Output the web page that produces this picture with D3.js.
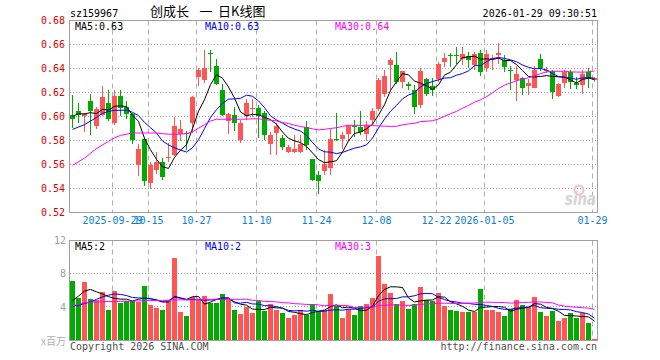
<!DOCTYPE html>
<html>
<head>
<meta charset="utf-8">
<script src="https://cdn.jsdelivr.net/npm/d3@7"></script>
<style>
  body { margin: 0; background: #fff; }
  text { font-family: "DejaVu Sans Mono", monospace; font-size: 10px; }
</style>
</head>
<body>
<div id="kline"></div>
<script>
/* sz159967 daily K-line: candles + volume, with MA5 / MA10 / MA30 */

const dates = [
  "2025-09-18","2025-09-19","2025-09-22","2025-09-23","2025-09-24","2025-09-25","2025-09-26","2025-09-29","2025-09-30",
  "2025-10-09","2025-10-10","2025-10-13","2025-10-14","2025-10-15","2025-10-16","2025-10-17","2025-10-20","2025-10-21",
  "2025-10-22","2025-10-23","2025-10-24","2025-10-27","2025-10-28","2025-10-29","2025-10-30","2025-10-31",
  "2025-11-03","2025-11-04","2025-11-05","2025-11-06","2025-11-07","2025-11-10","2025-11-11","2025-11-12","2025-11-13",
  "2025-11-14","2025-11-17","2025-11-18","2025-11-19","2025-11-20","2025-11-21","2025-11-24","2025-11-25","2025-11-26",
  "2025-11-27","2025-11-28",
  "2025-12-01","2025-12-02","2025-12-03","2025-12-04","2025-12-05","2025-12-08","2025-12-09","2025-12-10","2025-12-11",
  "2025-12-12","2025-12-15","2025-12-16","2025-12-17","2025-12-18","2025-12-19","2025-12-22","2025-12-23","2025-12-24",
  "2025-12-25","2025-12-26","2025-12-29","2025-12-30","2025-12-31",
  "2026-01-05","2026-01-06","2026-01-07","2026-01-08","2026-01-09","2026-01-12","2026-01-13","2026-01-14","2026-01-15",
  "2026-01-16","2026-01-19","2026-01-20","2026-01-21","2026-01-22","2026-01-23","2026-01-26","2026-01-27","2026-01-28",
  "2026-01-29"
];

const opens = [
  0.601,0.604,0.600,0.613,0.592,0.601,0.611,0.594,0.617,0.608,0.602,0.559,0.581,0.544,0.555,0.562,0.565,0.568,0.585,0.586,
  0.594,0.633,0.630,0.653,0.642,0.622,0.596,0.601,0.580,0.600,0.606,0.607,0.603,0.577,0.586,0.582,0.570,0.570,0.570,0.591,
  0.564,0.551,0.554,0.557,0.581,0.581,0.585,0.592,0.591,0.585,0.597,0.606,0.619,0.643,0.643,0.629,0.627,0.622,0.609,0.631,
  0.625,0.631,0.645,0.651,0.651,0.648,0.650,0.643,0.653,0.640,0.648,0.651,0.647,0.639,0.630,0.632,0.625,0.624,0.648,0.638,
  0.638,0.617,0.628,0.637,0.628,0.626,0.637,0.630
];
const highs = [
  0.618,0.611,0.603,0.619,0.608,0.625,0.622,0.622,0.622,0.613,0.603,0.577,0.582,0.562,0.570,0.565,0.578,0.599,0.597,0.588,
  0.617,0.640,0.655,0.655,0.648,0.627,0.603,0.608,0.597,0.614,0.614,0.609,0.604,0.587,0.594,0.584,0.576,0.584,0.584,0.596,
  0.564,0.554,0.572,0.589,0.603,0.587,0.593,0.597,0.604,0.596,0.607,0.632,0.639,0.649,0.654,0.638,0.629,0.626,0.640,0.632,
  0.632,0.645,0.653,0.653,0.658,0.658,0.654,0.654,0.655,0.655,0.651,0.661,0.651,0.642,0.642,0.633,0.631,0.642,0.652,0.641,
  0.639,0.628,0.639,0.639,0.633,0.639,0.640,0.633
];
const lows = [
  0.590,0.594,0.587,0.584,0.589,0.600,0.596,0.593,0.600,0.598,0.577,0.550,0.542,0.539,0.552,0.547,0.562,0.567,0.579,0.572,
  0.586,0.625,0.628,0.637,0.626,0.600,0.585,0.588,0.578,0.597,0.599,0.582,0.580,0.568,0.568,0.572,0.569,0.569,0.569,0.572,
  0.546,0.535,0.551,0.551,0.579,0.573,0.579,0.583,0.584,0.579,0.593,0.604,0.616,0.622,0.627,0.624,0.622,0.602,0.607,0.617,
  0.617,0.629,0.641,0.641,0.644,0.643,0.640,0.639,0.634,0.637,0.639,0.644,0.637,0.622,0.613,0.618,0.618,0.624,0.638,0.636,
  0.614,0.616,0.624,0.623,0.623,0.619,0.624,0.629
];
const closes = [
  0.598,0.601,0.602,0.604,0.606,0.616,0.598,0.617,0.607,0.602,0.580,0.573,0.546,0.559,0.562,0.549,0.566,0.592,0.589,0.585,
  0.616,0.639,0.640,0.652,0.627,0.601,0.602,0.594,0.594,0.611,0.607,0.600,0.584,0.584,0.592,0.574,0.574,0.573,0.577,0.576,
  0.547,0.546,0.560,0.581,0.580,0.584,0.592,0.591,0.587,0.593,0.604,0.630,0.634,0.647,0.629,0.638,0.625,0.608,0.638,0.619,
  0.622,0.644,0.649,0.650,0.650,0.652,0.647,0.652,0.637,0.652,0.649,0.653,0.641,0.638,0.635,0.624,0.628,0.639,0.640,0.639,
  0.620,0.627,0.637,0.629,0.626,0.635,0.632,0.632
];
// volume, millions of shares
const volumes = [
  7.16,5.12,7.00,4.92,4.84,5.84,3.56,5.92,4.52,4.76,4.76,4.64,6.56,4.24,3.80,3.64,4.72,9.92,3.32,2.92,
  5.20,4.84,5.36,4.52,4.52,5.60,4.84,3.56,3.08,3.92,3.20,4.76,3.44,4.40,3.56,3.20,2.60,2.96,3.56,3.00,
  4.40,3.44,3.64,5.60,4.12,2.68,3.76,3.04,4.12,4.40,5.08,10.12,6.76,5.72,4.36,4.72,3.76,4.36,6.40,4.84,
  4.76,5.72,4.12,3.64,3.52,3.32,3.40,3.32,6.16,3.64,3.64,3.40,2.92,3.76,4.84,4.24,3.92,5.20,3.40,2.92,
  3.52,2.32,2.68,3.28,2.68,3.20,2.08,0.16
];

// averages at the left edge depend on days before the window
const ma5Head = [0.600, 0.602, 0.602, 0.603];
const ma10Head = [0.589, 0.591, 0.593, 0.596, 0.599, 0.6025, 0.604, 0.605, 0.605];
const ma30Head = [0.559, 0.562, 0.565, 0.569, 0.573, 0.576, 0.579, 0.582, 0.584, 0.585, 0.586, 0.586, 0.586, 0.586,
  0.586, 0.5855, 0.585, 0.585, 0.585, 0.5855, 0.587, 0.590, 0.593, 0.596, 0.5975, 0.5975, 0.5975, 0.5975, 0.5975];
const vma5Head = [4.76, 5.3, 5.9, 6.1];
const vma10Head = [4.12, 4.2, 4.4, 4.6, 4.9, 5.2, 5.4, 5.55, 5.5];
const vma30Head = [4.12, 4.3, 4.5, 4.56, 4.6, 4.62, 4.64, 4.64, 4.66, 4.68, 4.7, 4.72, 4.74, 4.76, 4.76, 4.78,
  4.8, 4.84, 4.84, 4.84, 4.84, 4.84, 4.86, 4.9, 4.92, 4.92, 4.92, 4.9, 4.9];

const priceTicks = [0.52, 0.54, 0.56, 0.58, 0.60, 0.62, 0.64, 0.66, 0.68];
const volTicks = [4, 8, 12];
const tickDates = ["2025-09-29","2025-10-15","2025-10-27","2025-11-10","2025-11-24","2025-12-08","2025-12-22","2026-01-05","2026-01-29"];
const tickLabels = ["2025-09-29","10-15","10-27","11-10","11-24","12-08","12-22","2026-01-05","01-29"];

const chart = {
  width: 660, height: 360,
  left: 70, right: 598,
  priceTop: 20.5, priceBottom: 212,
  volTop: 240.5, volBottom: 340
};

const UP = "#ff5555", DOWN = "#00aa00";
const MA_COLORS = ["#000000", "#0000ff", "#ff00ff"];
const px = v => Math.round(v - 0.5) + 0.5;

const movingAvg = (values, n, head) => values.map((v, i) =>
  i < n - 1 ? head[i] : d3.mean(values.slice(i - n + 1, i + 1)));

const ma5 = movingAvg(closes, 5, ma5Head);
const ma10 = movingAvg(closes, 10, ma10Head);
const ma30 = movingAvg(closes, 30, ma30Head);
const vma5 = movingAvg(volumes, 5, vma5Head);
const vma10 = movingAvg(volumes, 10, vma10Head);
const vma30 = movingAvg(volumes, 30, vma30Head);

chart.svg = d3.select("#kline")
  .append("svg")
  .attr("width", chart.width)
  .attr("height", chart.height)
  .style("background", "#fff");

const x = d3.scaleBand().domain(dates).range([chart.left, chart.right]);
const yPrice = d3.scaleLinear().domain([0.52, 0.68]).range([chart.priceBottom, chart.priceTop]);
const yVol = d3.scaleLinear().domain([0, 12]).range([chart.volBottom, chart.volTop]);
const mid = i => x(dates[i]) + 2.5;

// Grid, frame and left labels for one panel
const drawPanel = (top, bottom, yScale, gridValues, axis, labelColor) => {
  const g = chart.svg.append("g");

  g.selectAll("line.h").data(gridValues).join("line")
    .attr("x1", chart.left).attr("x2", chart.right)
    .attr("y1", d => px(yScale(d))).attr("y2", d => px(yScale(d)))
    .attr("stroke", "#a0a0a0").attr("stroke-dasharray", "1,2");

  g.selectAll("line.v").data(tickDates).join("line")
    .attr("x1", d => px(x(d))).attr("x2", d => px(x(d)))
    .attr("y1", top).attr("y2", bottom)
    .attr("stroke", "#b0b0b0").attr("stroke-dasharray", "5,4");

  g.append("rect")
    .attr("x", chart.left - 0.5).attr("y", px(top))
    .attr("width", chart.right - chart.left).attr("height", px(bottom) - px(top))
    .attr("fill", "none").attr("stroke", "#a0a0a0");

  const ax = g.append("g").attr("transform", `translate(${chart.left},0)`).call(axis);
  ax.select(".domain").remove();
  ax.selectAll("text").attr("fill", labelColor).style("font-family", "DejaVu Sans Mono").style("font-size", "10px");
  return g;
};

drawPanel(chart.priceTop, chart.priceBottom, yPrice, priceTicks.slice(1, -1),
  d3.axisLeft(yPrice).tickValues(priceTicks).tickFormat(d3.format(".2f")).tickSize(0).tickPadding(5), "#e00000");
drawPanel(chart.volTop, chart.volBottom, yVol, [4, 8],
  d3.axisLeft(yVol).tickValues(volTicks).tickFormat(d3.format("d")).tickSize(0).tickPadding(4), "#a0a0a0");

// Date axis under the price panel
const dateAxis = chart.svg.append("g")
  .attr("transform", `translate(-2.5, ${chart.priceBottom})`)
  .call(d3.axisBottom(x).tickValues(tickDates).tickFormat((d, i) => tickLabels[i]).tickSize(0).tickPadding(5));
dateAxis.select(".domain").remove();
dateAxis.selectAll("text").attr("fill", "#0a7fd4").style("font-family", "DejaVu Sans Mono").style("font-size", "10px");

// Watermark
const mark = chart.svg.append("g");
mark.append("circle").attr("cx", 579).attr("cy", 190).attr("r", 4.5)
  .attr("fill", "none").attr("stroke", "#f4c0c0").attr("stroke-width", 2);
mark.append("text").attr("x", 565).attr("y", 205)
  .attr("textLength", 31).attr("lengthAdjust", "spacingAndGlyphs")
  .style("font-family", "DejaVu Sans").style("font-size", "17px")
  .style("font-style", "italic").style("font-weight", "bold")
  .attr("fill", "#d4d4d4").text("sina");

// Candles
const idx = d3.range(dates.length);
const color = i => closes[i] >= opens[i] ? UP : DOWN;
const candles = chart.svg.append("g").attr("shape-rendering", "crispEdges");
candles.selectAll("line").data(idx).join("line")
  .attr("x1", mid).attr("x2", mid)
  .attr("y1", i => yPrice(highs[i])).attr("y2", i => yPrice(lows[i]))
  .attr("stroke", color);
candles.selectAll("rect").data(idx).join("rect")
  .attr("x", i => x(dates[i]))
  .attr("width", 5)
  .attr("y", i => yPrice(Math.max(opens[i], closes[i])))
  .attr("height", i => Math.max(1, Math.abs(yPrice(opens[i]) - yPrice(closes[i]))))
  .attr("fill", color);

// Volume bars
chart.svg.append("g").attr("shape-rendering", "crispEdges")
  .selectAll("rect").data(idx).join("rect")
  .attr("x", i => x(dates[i]))
  .attr("width", 5)
  .attr("y", i => yVol(volumes[i]))
  .attr("height", i => yVol(0) - yVol(volumes[i]))
  .attr("fill", color);

// Moving average lines: MA5 black, MA10 blue, MA30 magenta
const drawLines = (series, yScale) => {
  series.forEach((s, k) => {
    chart.svg.append("path")
      .datum(idx)
      .attr("d", d3.line().x(mid).y(i => yScale(s[i])))
      .attr("fill", "none")
      .attr("stroke", MA_COLORS[k])
      .attr("stroke-width", 1);
  });
};
drawLines([ma5, ma10, ma30], yPrice);
drawLines([vma5, vma10, vma30], yVol);

// Texts
const label = (txt, xPos, yPos, fill, anchor) => chart.svg.append("text")
  .attr("x", xPos).attr("y", yPos).attr("fill", fill)
  .attr("text-anchor", anchor || "start").text(txt);

const last = arr => arr[arr.length - 1];
const fmt2 = d3.format(".2f");
label("MA5:" + fmt2(last(ma5)), 75, 29.5, MA_COLORS[0]);
label("MA10:" + fmt2(last(ma10)), 205, 29.5, MA_COLORS[1]);
label("MA30:" + fmt2(last(ma30)), 335, 29.5, MA_COLORS[2]);
label("MA5:" + Math.floor(last(vma5)), 75, 249.5, MA_COLORS[0]);
label("MA10:" + Math.floor(last(vma10)), 205, 249.5, MA_COLORS[1]);
label("MA30:" + Math.floor(last(vma30)), 335, 249.5, MA_COLORS[2]);

label("sz159967", 70, 16.5, "#000");
label("2026-01-29 09:30:51", 597, 16.5, "#000", "end");
// title pieces, spaced as in the original header
const cjk = sel => sel.style("font-family", "Noto Sans CJK SC").style("font-size", "13px");
cjk(label("创成长", 150, 16, "#000"));
cjk(label("一", 199.5, 16, "#000"));
cjk(label("日K线图", 218, 16, "#000"));

label("x百万", 66, 345, "#b0b0b0", "end")
  .style("font-family", "Noto Sans CJK SC").style("font-size", "10px");
label("Copyright 2026 SINA.COM", 70, 349.5, "#505050");
label("http://finance.sina.com.cn", 597, 349.5, "#505050", "end");
</script>
</body>
</html>
